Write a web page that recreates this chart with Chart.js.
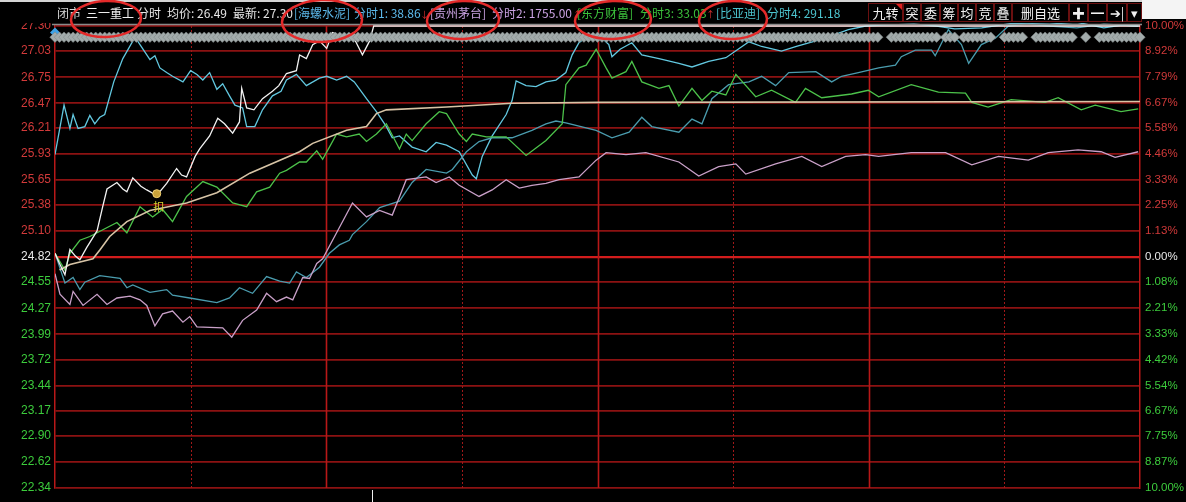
<!DOCTYPE html>
<html>
<head>
<meta charset="utf-8">
<script src="https://cdn.jsdelivr.net/npm/chart.js@4.4.0/dist/chart.umd.min.js"></script>
<style>
  html, body { margin: 0; padding: 0; background: #000; }
</style>
</head>
<body>
<canvas id="chart" width="1186" height="502"></canvas>
<script>
// price axis (left) and percent axis (right)
const priceTicks = [27.30, 27.03, 26.75, 26.47, 26.21, 25.93, 25.65, 25.38, 25.10, 24.82,
                    24.55, 24.27, 23.99, 23.72, 23.44, 23.17, 22.90, 22.62, 22.34];
const pctLabels = ['10.00%', '8.92%', '7.79%', '6.67%', '5.58%', '4.46%', '3.33%', '2.25%', '1.13%', '0.00%',
                   '1.08%', '2.21%', '3.33%', '4.42%', '5.54%', '6.67%', '7.75%', '8.87%', '10.00%'];
const prevClose = 24.82;
const sessionMarks = [30, 60, 90, 120, 150, 180, 210];

// [minute, price] — 三一重工 分时
const sanyi = [[0,24.86],[1,24.75],[2.2,24.63],[3.3,24.90],[4.5,24.83],[5.5,24.79],[7,24.92],[9.3,25.10],
  [10.5,25.35],[11.5,25.55],[13.7,25.62],[15,25.55],[15.9,25.52],[17.2,25.67],[19,25.58],[20.3,25.54],
  [22.5,25.48],[24.7,25.61],[26.9,25.77],[28,25.70],[29.1,25.68],[31,25.90],[32,25.98],[34.2,26.12],
  [36,26.31],[37.5,26.25],[39.3,26.15],[40.8,26.27],[41.3,26.63],[42.4,26.42],[44,26.40],[45.9,26.52],
  [48.1,26.60],[49.5,26.66],[51.2,26.79],[53.4,26.82],[54.1,26.99],[55.6,26.95],[57,27.10],[58.5,27.14],
  [60.1,27.06],[61.4,27.23],[62.9,27.20],[65.8,27.20],[68,26.99],[69.6,27.14],[70.5,27.30],[240,27.30]];
// 均价
const sanyiAvg = [[1,24.68],[3.3,24.74],[8.4,24.80],[10,24.90],[12.1,25.04],[15.9,25.20],[21,25.32],
  [29.1,25.40],[35.8,25.51],[43.1,25.72],[54.1,25.95],[57,26.04],[64.5,26.18],[68.9,26.22],[71.1,26.36],
  [73.3,26.40],[86.6,26.43],[101.1,26.47],[120.3,26.48],[240,26.49]];
// 叠加 海螺水泥
const hailuo = [[0,25.92],[2,26.45],[3.3,26.20],[4,26.35],[5.1,26.20],[6.6,26.22],[7.7,26.34],[8.8,26.25],
  [9.9,26.32],[11,26.35],[13,26.70],[15,26.95],[17.7,27.18],[18.8,27.10],[19.9,27.02],[21,26.94],[22.1,26.98],
  [23.2,26.85],[24.7,26.80],[26,26.76],[28.3,26.70],[30,26.82],[31.4,26.78],[32.7,26.72],[34.2,26.80],
  [35.8,26.62],[37.1,26.68],[38.6,26.55],[39.8,26.45],[41.5,26.42],[42.4,26.22],[44.2,26.22],[45.9,26.40],
  [48.1,26.55],[50,26.60],[51.2,26.72],[53.4,26.78],[55.6,26.66],[58.5,26.74],[60.1,26.76],[62.3,26.72],
  [64.5,26.76],[66.2,26.70],[68.9,26.52],[71.1,26.38],[73.3,26.22],[74.6,26.10],[76.2,26.12],[79,26.00],
  [82.1,25.95],[84.3,26.05],[86.6,26.02],[89.4,25.95],[92.3,25.70],[93.2,25.66],[94.5,25.90],[96.7,26.12],
  [99.8,26.35],[101.1,26.50],[102,26.71],[104.2,26.66],[106.4,26.65],[108.6,26.70],[110.8,26.72],[113,26.80],
  [114.4,26.99],[115.9,27.12],[117.5,27.18],[120.3,27.20],[122.5,27.10],[123.2,26.97],[125,27.05],
  [127.6,27.12],[129.8,26.99],[133.6,26.95],[138,26.90],[140.9,26.86],[144.6,26.92],[148.4,26.96],
  [153.5,27.13],[156.3,27.08],[160.7,27.03],[164,27.08],[168.3,27.14],[172,27.20],[175.5,27.26],[179.3,27.30],
  [182.8,27.31],[190,27.32],[195,27.30],[199,27.27],[205,27.28],[212,27.33],[220,27.32],[226,27.34],
  [232,27.28],[236,27.31],[239.6,27.30]];
// 叠加 贵州茅台
const maotai = [[0,24.64],[1.1,24.42],[3.3,24.31],[4,24.45],[6.2,24.30],[9.3,24.42],[11.5,24.31],[13.7,24.38],
  [16.6,24.40],[18.8,24.36],[20.3,24.30],[22.1,24.08],[23.8,24.21],[26,24.24],[28.3,24.12],[29.8,24.18],
  [31.4,24.07],[37.1,24.06],[39.1,23.96],[41.5,24.14],[44.6,24.25],[46.8,24.43],[49,24.34],[51.2,24.39],
  [52.6,24.36],[54.8,24.60],[56.3,24.59],[57.9,24.75],[59.2,24.80],[61.4,25.00],[65.8,25.40],[68.9,25.25],
  [71.8,25.32],[74.6,25.27],[77.7,25.65],[82.1,25.68],[84.3,25.62],[87.2,25.68],[89.4,25.59],[93.8,25.47],
  [96.7,25.54],[99.8,25.65],[102.7,25.56],[105.5,25.59],[108.6,25.61],[111.5,25.65],[115.9,25.68],
  [119.7,25.86],[121.9,25.94],[126.3,25.92],[130.7,25.94],[138,25.84],[142.4,25.69],[146.8,25.79],
  [150.6,25.82],[152.8,25.71],[159.4,25.82],[165.2,25.90],[169.6,25.79],[174.9,25.90],[179.3,25.92],
  [182.2,25.90],[189.4,25.94],[197,25.94],[202.8,25.81],[208.7,25.90],[215.3,25.86],[219.7,25.94],
  [226.3,25.97],[231.4,25.95],[234.5,25.89],[239.6,25.95]];
// 叠加 东方财富
const dongcai = [[0,24.86],[2.2,24.68],[3.3,24.86],[5.5,25.00],[7.7,25.04],[13.7,25.19],[15.9,25.08],
  [18.8,25.36],[21.6,25.25],[23.8,25.33],[26,25.20],[29.1,25.47],[32.7,25.63],[35.8,25.57],[39.3,25.40],
  [42.4,25.36],[44.6,25.52],[47.5,25.57],[49.7,25.72],[51.2,25.75],[54.1,25.84],[55.6,25.84],[57.9,25.96],
  [59.2,25.87],[60.7,26.00],[62.3,26.14],[64.5,26.11],[67.3,26.14],[68.9,26.06],[71.1,26.14],[73.3,26.25],
  [76.2,25.98],[77.7,26.14],[79,26.07],[82.1,26.25],[85,26.38],[86.6,26.36],[89.4,26.14],[91,26.06],
  [92.3,26.14],[95.4,26.11],[99.8,26.11],[104.2,25.91],[108.6,26.07],[112.2,26.25],[113,26.67],
  [115.9,26.85],[117.5,26.88],[119.7,27.05],[121.9,26.85],[123.2,26.74],[126.3,26.81],[127.6,26.92],
  [129.8,26.70],[133.6,26.63],[135.8,26.66],[138,26.44],[140.9,26.63],[143.1,26.50],[145.3,26.60],
  [148.4,26.56],[150.6,26.78],[155,26.54],[158.5,26.61],[163.8,26.48],[166,26.63],[169.6,26.53],
  [176.2,26.57],[179.9,26.61],[182.2,26.54],[189.4,26.67],[195.4,26.59],[201.4,26.58],[202.8,26.48],
  [206.4,26.43],[211.5,26.51],[219,26.48],[221.9,26.53],[227,26.40],[230.1,26.45],[235.8,26.38],[239.6,26.41]];
// 叠加 比亚迪
const byd = [[0,24.86],[2.2,24.54],[4,24.60],[5.5,24.47],[6.6,24.55],[9.9,24.62],[14.4,24.59],[15.9,24.49],
  [17.2,24.52],[21,24.44],[24.7,24.47],[26,24.41],[29.8,24.38],[35.8,24.33],[38.6,24.38],[40.8,24.49],
  [43.7,24.43],[46.8,24.61],[49.7,24.56],[51.9,24.54],[53.4,24.66],[55.6,24.60],[58.5,24.71],[60.7,24.86],
  [62.9,24.95],[65.1,25.00],[65.8,25.06],[68.9,25.20],[71.8,25.35],[76.2,25.42],[79,25.62],[82.1,25.76],
  [86.6,25.72],[87.9,25.76],[91,25.95],[93.8,26.06],[96.7,26.10],[101.1,26.10],[105.5,26.18],[108.6,26.25],
  [110.8,26.28],[113,26.26],[119.7,26.18],[123.2,26.10],[127,26.16],[129.8,26.32],[132,26.22],[138,26.16],
  [140.9,26.30],[143.1,26.25],[145.3,26.52],[149,26.67],[153.5,26.70],[156.3,26.76],[159.4,26.66],
  [162.3,26.80],[168.3,26.81],[171.8,26.70],[174,26.76],[177.7,26.80],[182.2,26.85],[185.9,26.88],
  [187.2,26.97],[190.3,27.04],[193.9,27.04],[194.7,26.98],[197.6,27.26],[200.5,27.10],[202.1,26.90],
  [204.9,27.10],[208,27.17],[210.9,27.30],[215,27.32],[220,27.30],[226,27.28],[232,27.32],[239.6,27.30]];

// marker row near the limit price, runs of minutes
const sealLevel = 27.18;
const sealRuns = [[0,182],[185,195],[197,199],[201,207],[210,214],[217,225],[228,228],[231,240]];
const startMark = [[0, 27.23]];
const coinMark = [[22.5, 25.50]];

const header = [
  ['闭市', 57, '#d8d8d8'], ['三一重工', 86, '#f2f2f2'], ['分时', 137, '#e6e6e6'],
  ['均价: 26.49', 167, '#e6e6e6'], ['最新: 27.30', 233, '#e6e6e6'],
  ['[海螺水泥]', 294, '#5cb8ea'], ['分时1: 38.86', 354, '#5cb8ea'],
  ['[贵州茅台]', 430, '#caa2e2'], ['分时2: 1755.00', 492, '#caa2e2'],
  ['[东方财富]', 577, '#3cc23c'], ['分时3: 33.03', 640, '#3cc23c'],
  ['[比亚迪]', 716, '#4cc4cf'], ['分时4: 291.18', 767, '#4cc4cf']
];
const buttons = ['九转', '突', '委', '筹', '均', '竞', '叠', '删自选', '✚', '━', '➔|', '▾'];
const buttonEdges = [868, 903, 921, 940, 958, 976, 994, 1012, 1069, 1088, 1107, 1127, 1142];
const circles = [[106, 19, 35, 18], [322, 21, 40, 21], [463, 20, 36, 19], [613, 20, 38, 19], [733, 20, 34, 19]];

const sealPoints = [];
sealRuns.forEach(([a, b]) => { for (let m = a; m <= b; m++) sealPoints.push([m, sealLevel]); });

const labelColor = (v) => v > prevClose ? '#d23a3a' : (v === prevClose ? '#e8e8e8' : '#3ccc3c');

const frame = {
  id: 'frame',
  beforeDraw(chart) {
    const c = chart.ctx;
    c.save();
    c.fillStyle = '#000';
    c.fillRect(0, 0, chart.width, chart.height);
    c.restore();
  },
  beforeDatasetsDraw(chart) {
    const c = chart.ctx, x = chart.scales.x, a = chart.chartArea;
    c.save();
    sessionMarks.forEach(m => {
      const px = Math.round(x.getPixelForValue(m)) + 0.5;
      c.beginPath();
      if (m % 60 === 0) { c.strokeStyle = '#b81818'; c.lineWidth = 1.6; c.setLineDash([]); }
      else { c.strokeStyle = '#a01818'; c.lineWidth = 1; c.setLineDash([2, 2]); }
      c.moveTo(px, a.top); c.lineTo(px, a.bottom); c.stroke();
    });
    c.restore();
  },
  afterDraw(chart) {
    const c = chart.ctx, x = chart.scales.x, y = chart.scales.y;
    c.save();
    // header strip
    c.fillStyle = '#000';
    c.fillRect(0, 0, 1142, 23);
    c.fillStyle = '#d4d4d4';
    c.fillRect(0, 0, 1186, 2);
    c.fillStyle = '#f4f4f4';
    c.fillRect(1142, 0, 44, 19);
    c.strokeStyle = '#8a8a8a'; c.lineWidth = 1.5;
    c.beginPath(); c.moveTo(52, 24.5); c.lineTo(1142, 24.5); c.stroke();
    c.font = '12px "Noto Sans CJK SC", sans-serif';
    c.textBaseline = 'middle';
    header.forEach(([t, px, col]) => { c.fillStyle = col; c.fillText(t, px, 13); });
    c.fillStyle = '#e03030';
    c.font = '9px "Noto Sans CJK SC", sans-serif';
    c.fillText('↓', 420, 15); c.fillText('↑', 573, 15); c.fillText('↑', 706, 15);
    // buttons
    c.font = '13px "Noto Sans CJK SC", sans-serif';
    c.textAlign = 'center';
    buttons.forEach((b, i) => {
      const l = buttonEdges[i], r = buttonEdges[i + 1];
      c.strokeStyle = '#6a1010'; c.lineWidth = 1;
      c.strokeRect(l + 0.5, 3.5, r - l - 1, 18);
      c.fillStyle = '#f0f0f0';
      c.fillText(b, (l + r) / 2, 13);
    });
    c.fillStyle = '#e02020';
    c.beginPath(); c.moveTo(896, 4); c.lineTo(902, 4); c.lineTo(902, 10); c.fill();
    // coin label
    c.fillStyle = '#d8d030';
    c.font = '11px "Noto Sans CJK SC", sans-serif';
    c.fillText('扣', x.getPixelForValue(coinMark[0][0]) + 2, y.getPixelForValue(coinMark[0][1]) + 13);
    // bottom cursor tick
    const cx = Math.round(x.getPixelForValue(70.2)) + 0.5;
    c.strokeStyle = '#f0f0f0'; c.lineWidth = 1;
    c.beginPath(); c.moveTo(cx, 490); c.lineTo(cx, 502); c.stroke();
    // red hand-drawn circles
    c.strokeStyle = '#e42a2a'; c.lineWidth = 2.5;
    circles.forEach(([cx0, cy0, rx, ry]) => {
      c.beginPath(); c.ellipse(cx0, cy0, rx, ry, -0.04, 0, Math.PI * 2); c.stroke();
    });
    c.restore();
  }
};

const lineSet = (label, data, color, width) => ({
  label, data, borderColor: color, borderWidth: width, pointRadius: 0, tension: 0,
  fill: false, clip: { left: 0, top: 6, right: 0, bottom: 0 }
});

new Chart(document.getElementById('chart'), {
  type: 'line',
  data: {
    datasets: [
      { label: 'seal', data: sealPoints, showLine: false, pointStyle: 'rectRot', pointRadius: 5.2,
        pointBackgroundColor: '#a2abab', pointBorderColor: '#7d8787', pointBorderWidth: 0.6, clip: false },
      { label: 'start', data: startMark, showLine: false, pointStyle: 'rectRot', pointRadius: 5,
        pointBackgroundColor: '#3ea2e6', pointBorderWidth: 0, clip: false },
      { label: 'coin', data: coinMark, showLine: false, pointStyle: 'circle', pointRadius: 4,
        pointBackgroundColor: '#c9a23a', pointBorderColor: '#f0d070', pointBorderWidth: 1 },
      lineSet('三一重工', sanyi, '#f2f2f2', 1.3),
      lineSet('均价', sanyiAvg, '#d7c4a6', 1.6),
      lineSet('东方财富', dongcai, '#4cc24a', 1.3),
      lineSet('贵州茅台', maotai, '#c9a0c8', 1.3),
      lineSet('比亚迪', byd, '#4a9cae', 1.3),
      lineSet('海螺水泥', hailuo, '#62c8e0', 1.3)
    ]
  },
  options: {
    responsive: false,
    animation: false,
    events: [],
    layout: { padding: { top: 26, bottom: 14, left: 0, right: 0 } },
    plugins: { legend: { display: false }, tooltip: { enabled: false } },
    scales: {
      x: { type: 'linear', min: 0, max: 240, display: false },
      y: {
        position: 'left', min: 22.34, max: 27.30,
        afterBuildTicks: s => { s.ticks = priceTicks.slice().reverse().map(v => ({ value: v })); },
        afterFit: s => { s.width = 55; },
        border: { display: true, color: '#b81818', width: 1.5 },
        grid: {
          drawTicks: false,
          color: c => c.tick.value === prevClose ? '#d21c1c' : '#8c1212',
          lineWidth: c => c.tick.value === prevClose ? 2.2 : 1.8
        },
        ticks: {
          autoSkip: false, padding: 4,
          font: { family: '"Liberation Sans", Arial, sans-serif', size: 12 },
          color: c => labelColor(c.tick.value),
          callback: v => v.toFixed(2)
        }
      },
      y2: {
        position: 'right', min: 22.34, max: 27.30,
        afterBuildTicks: s => { s.ticks = priceTicks.slice().reverse().map(v => ({ value: v })); },
        afterFit: s => { s.width = 46; },
        border: { display: true, color: '#b81818', width: 1.5 },
        grid: { drawOnChartArea: false, drawTicks: false },
        ticks: {
          autoSkip: false, padding: 5,
          font: { family: '"Liberation Sans", Arial, sans-serif', size: 11.5 },
          color: c => labelColor(c.tick.value),
          callback: v => pctLabels[priceTicks.indexOf(v)]
        }
      }
    }
  },
  plugins: [frame]
});
</script>
</body>
</html>
